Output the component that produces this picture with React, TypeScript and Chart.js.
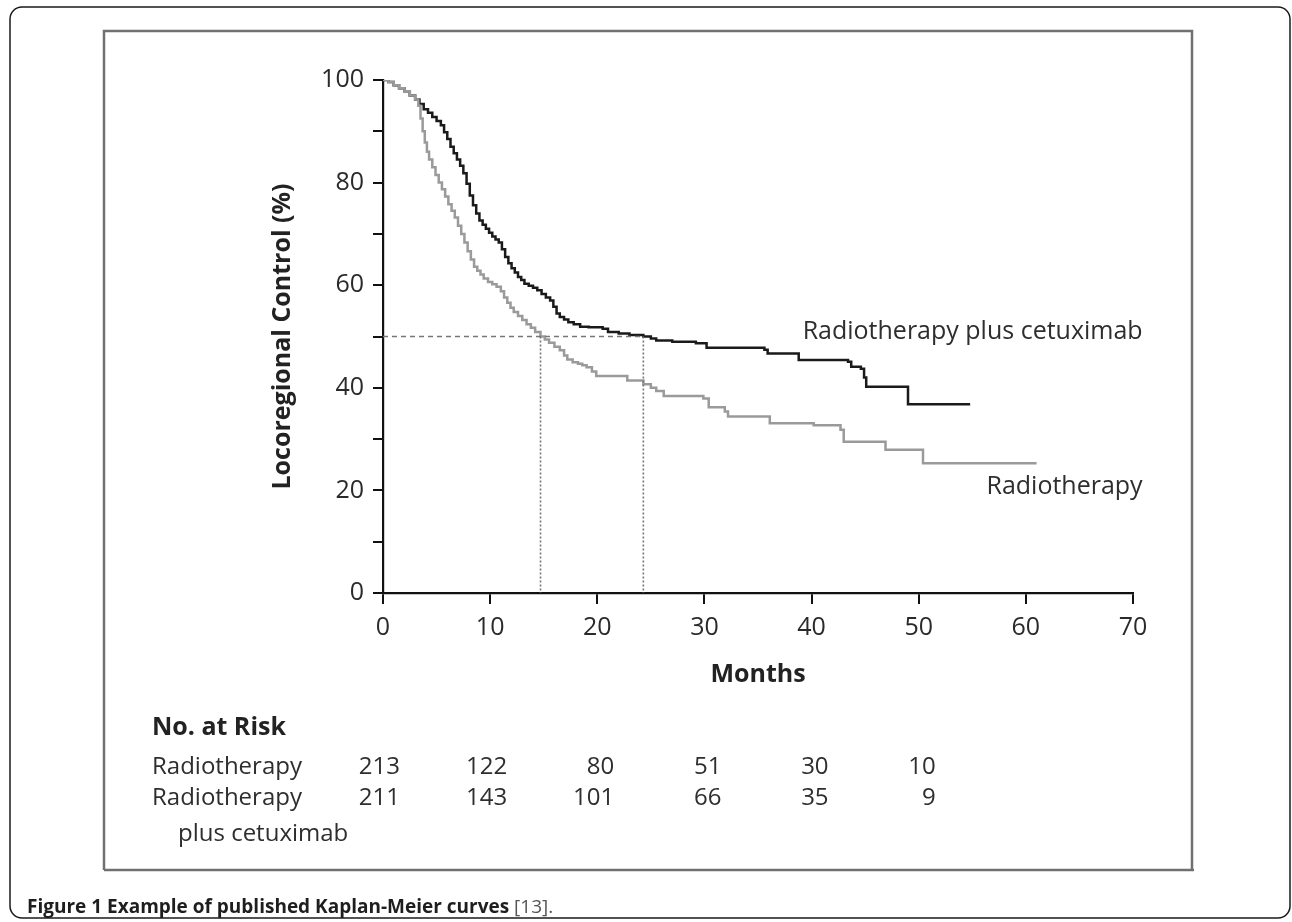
import React, { useEffect, useRef } from "react";
import { Chart, registerables } from "chart.js";

Chart.register(...registerables);

// ---- data ----
const riskMonths = [0, 10, 20, 30, 40, 50];
const riskRadiotherapy = [213, 122, 80, 51, 30, 10];
const riskCetuximab = [211, 143, 101, 66, 35, 9];

const cetuxTimes = [0, 0.5, 1.0, 1.5, 2.0, 2.5, 3.0, 3.4, 3.8, 4.2, 4.6, 5.0, 5.4, 5.7, 6.0, 6.3, 6.6, 6.9, 7.2, 7.5, 7.8, 8.1, 8.4, 8.7, 9.0, 9.3, 9.6, 9.9, 10.2, 10.5, 10.8, 11.1, 11.4, 11.7, 12.0, 12.3, 12.6, 12.9, 13.2, 13.6, 14.0, 14.4, 14.8, 15.2, 15.6, 15.9, 16.2, 16.5, 16.9, 17.3, 17.8, 18.4, 19.2, 20.5, 21.0, 22.0, 23.0, 24.3, 25.0, 25.5, 27.0, 29.2, 30.2, 35.6, 35.9, 38.8, 43.4, 43.7, 44.6, 44.9, 45.1, 49.0, 54.8];
const cetuxSurv = [100, 99.6, 99.0, 98.4, 97.8, 97.0, 96.2, 95.3, 94.3, 93.6, 92.8, 92.0, 91.2, 89.8, 88.5, 87.0, 85.7, 84.5, 83.3, 81.8, 79.8, 77.5, 75.6, 74.0, 72.6, 71.8, 71.0, 70.2, 69.5, 68.9, 68.3, 67.0, 65.5, 64.3, 63.3, 62.5, 61.6, 61.0, 60.3, 59.9, 59.5, 59.0, 58.3, 57.6, 57.0, 55.8, 54.5, 53.8, 53.3, 52.8, 52.4, 51.9, 51.8, 51.5, 50.9, 50.6, 50.3, 50.0, 49.6, 49.2, 49.0, 48.7, 47.8, 47.4, 46.7, 45.4, 45.1, 44.1, 43.7, 42.0, 40.2, 36.8, 36.8];

const radioTimes = [0, 0.5, 1.0, 1.5, 2.0, 2.5, 3.0, 3.3, 3.5, 3.7, 3.9, 4.1, 4.3, 4.6, 4.9, 5.2, 5.5, 5.8, 6.1, 6.4, 6.7, 7.0, 7.3, 7.6, 7.9, 8.2, 8.5, 8.8, 9.1, 9.4, 9.8, 10.2, 10.6, 11.0, 11.3, 11.6, 11.9, 12.2, 12.6, 13.0, 13.4, 13.8, 14.2, 14.7, 15.1, 15.5, 16.0, 16.5, 16.9, 17.2, 17.7, 18.2, 18.6, 19.0, 19.5, 19.9, 22.8, 24.3, 25.0, 25.5, 26.2, 29.9, 30.4, 31.9, 32.2, 36.1, 40.2, 42.7, 43.0, 46.9, 50.4, 61.0];
const radioSurv = [100, 99.6, 99.0, 98.4, 97.8, 97.0, 96.2, 95.0, 92.5, 90.0, 87.8, 86.0, 84.5, 83.0, 81.5, 80.0, 78.7, 77.3, 75.8, 74.5, 73.2, 71.6, 70.0, 68.3, 66.6, 65.0, 63.6, 62.8, 62.1, 61.3, 60.6, 60.2, 59.7, 58.8, 57.6, 56.6, 55.6, 54.8, 54.0, 53.2, 52.4, 51.7, 50.9, 50.0, 49.4, 48.8, 48.0, 47.3, 46.3, 45.5, 45.0, 44.7, 44.4, 44.0, 43.2, 42.3, 41.4, 40.7, 40.0, 39.4, 38.4, 37.9, 36.2, 35.4, 34.4, 33.1, 32.7, 31.8, 29.5, 27.9, 25.3, 25.3];

const medianTimes = [14.7, 24.3];
const medianLevel = 50;

const xMax = 70;
const xStep = 10;
const yMax = 100;
const yStep = 10;
const yLabelEvery = 20;

const seriesNames = ["Radiotherapy plus cetuximab", "Radiotherapy"];
const labelAnchors = [
  { x: 70.9, y: 50.9 },
  { x: 70.9, y: 20.7 },
];

const FONT = "'Open Sans', 'Noto Sans', sans-serif";

const W = 1292;
const H = 922;

const toPoints = (xs: number[], ys: number[]) => xs.map((x, i) => ({ x, y: ys[i] }));

const extrasPlugin = {
  id: "extras",
  beforeDraw(chart: any) {
    const ctx = chart.ctx as CanvasRenderingContext2D;
    ctx.save();
    ctx.fillStyle = "#ffffff";
    ctx.fillRect(0, 0, W, H);
    // outer rounded frame
    ctx.strokeStyle = "#1a1a1a";
    ctx.lineWidth = 1.5;
    ctx.beginPath();
    (ctx as any).roundRect(10, 7, 1280, 911, 12);
    ctx.stroke();
    // inner gray frame
    ctx.strokeStyle = "#707070";
    ctx.lineWidth = 2.5;
    ctx.beginPath();
    ctx.moveTo(104, 870);
    ctx.lineTo(104, 31);
    ctx.lineTo(1192, 31);
    ctx.lineTo(1192, 870);
    ctx.moveTo(104, 870);
    ctx.lineTo(1194, 870);
    ctx.stroke();
    ctx.restore();
  },
  afterDraw(chart: any) {
    const ctx = chart.ctx as CanvasRenderingContext2D;
    const xs = chart.scales.x;
    const ys = chart.scales.y;
    const area = chart.chartArea;
    ctx.save();

    // axis titles
    ctx.fillStyle = "#222";
    ctx.textAlign = "center";
    ctx.textBaseline = "middle";
    ctx.font = `bold 25px ${FONT}`;
    ctx.fillText("Months", (area.left + area.right) / 2, 675);
    ctx.save();
    ctx.translate(283, (area.top + area.bottom) / 2);
    ctx.rotate(-Math.PI / 2);
    ctx.font = `bold 25px ${FONT}`;
    ctx.fillText("Locoregional Control (%)", 0, 0);
    ctx.restore();

    // curve labels
    ctx.fillStyle = "#2e2e2e";
    ctx.font = `25px ${FONT}`;
    ctx.textAlign = "right";
    labelAnchors.forEach((a, i) => {
      ctx.fillText(seriesNames[i], xs.getPixelForValue(a.x), ys.getPixelForValue(a.y));
    });

    // risk table
    ctx.textAlign = "left";
    ctx.fillStyle = "#222";
    ctx.font = `bold 25px ${FONT}`;
    ctx.fillText("No. at Risk", 152, 728);
    ctx.fillStyle = "#2e2e2e";
    ctx.font = `24px ${FONT}`;
    ctx.fillText("Radiotherapy", 152, 767);
    ctx.fillText("Radiotherapy", 152, 798);
    ctx.fillText("plus cetuximab", 178, 834);
    ctx.textAlign = "right";
    riskMonths.forEach((m, i) => {
      const px = xs.getPixelForValue(m) + 17;
      ctx.fillText(String(riskRadiotherapy[i]), px, 767);
      ctx.fillText(String(riskCetuximab[i]), px, 798);
    });

    // caption
    ctx.textAlign = "left";
    ctx.textBaseline = "alphabetic";
    ctx.fillStyle = "#1e1e1e";
    ctx.font = `bold 19px ${FONT}`;
    const cap = "Figure 1 Example of published Kaplan-Meier curves";
    ctx.fillText(cap, 27, 913);
    const w = ctx.measureText(cap + " ").width;
    ctx.font = `19px ${FONT}`;
    ctx.fillStyle = "#555";
    ctx.fillText("[13].", 27 + w, 913);

    ctx.restore();
  },
};

export default function App() {
  const ref = useRef<HTMLCanvasElement | null>(null);
  useEffect(() => {
    if (!ref.current) return;
    const medianDatasets = [
      {
        data: [
          { x: 0, y: medianLevel },
          { x: medianTimes[1], y: medianLevel },
        ],
        borderColor: "#777",
        borderWidth: 1.6,
        borderDash: [5, 4],
        pointRadius: 0,
        stepped: false,
      },
      ...medianTimes.map((t) => ({
        data: [
          { x: t, y: medianLevel },
          { x: t, y: 0 },
        ],
        borderColor: "#777",
        borderWidth: 1.6,
        borderDash: [2, 2],
        pointRadius: 0,
        stepped: false,
      })),
    ];
    const chart = new Chart(ref.current, {
      type: "line",
      data: {
        datasets: [
          ...medianDatasets,
          {
            label: seriesNames[1],
            data: toPoints(radioTimes, radioSurv),
            borderColor: "#9a9a9a",
            borderWidth: 2.5,
            pointRadius: 0,
            stepped: "before",
          },
          {
            label: seriesNames[0],
            data: toPoints(cetuxTimes, cetuxSurv),
            borderColor: "#1a1a1a",
            borderWidth: 2.5,
            pointRadius: 0,
            stepped: "before",
          },
        ] as any,
      },
      options: {
        responsive: false,
        animation: false,
        devicePixelRatio: 1,
        layout: { padding: { left: 0, top: 80, right: W - 1133, bottom: 0 } },
        plugins: { legend: { display: false }, tooltip: { enabled: false } },
        scales: {
          x: {
            type: "linear",
            min: 0,
            max: xMax,
            afterFit: (s: any) => {
              s.height = H - 593;
            },
            ticks: {
              stepSize: xStep,
              color: "#2a2a2a",
              font: { family: FONT, size: 25 },
              padding: 9,
              maxRotation: 0,
            },
            grid: { drawOnChartArea: false, tickLength: 11, color: "#111", lineWidth: 2 },
            border: { display: true, color: "#111", width: 2.2 },
          },
          y: {
            type: "linear",
            min: 0,
            max: yMax,
            afterFit: (s: any) => {
              s.width = 383;
            },
            ticks: {
              stepSize: yStep,
              color: "#2a2a2a",
              font: { family: FONT, size: 25 },
              padding: 9,
              callback: (v: any) => (Number(v) % yLabelEvery === 0 ? String(v) : ""),
            },
            grid: { drawOnChartArea: false, tickLength: 10, color: "#111", lineWidth: 2 },
            border: { display: true, color: "#111", width: 2.2 },
          },
        },
      } as any,
      plugins: [extrasPlugin],
    });
    return () => chart.destroy();
  }, []);
  return (
    <div style={{ position: "absolute", left: 0, top: 0, width: W, height: H }}>
      <canvas ref={ref} width={W} height={H} style={{ width: W, height: H, display: "block" }} />
    </div>
  );
}
